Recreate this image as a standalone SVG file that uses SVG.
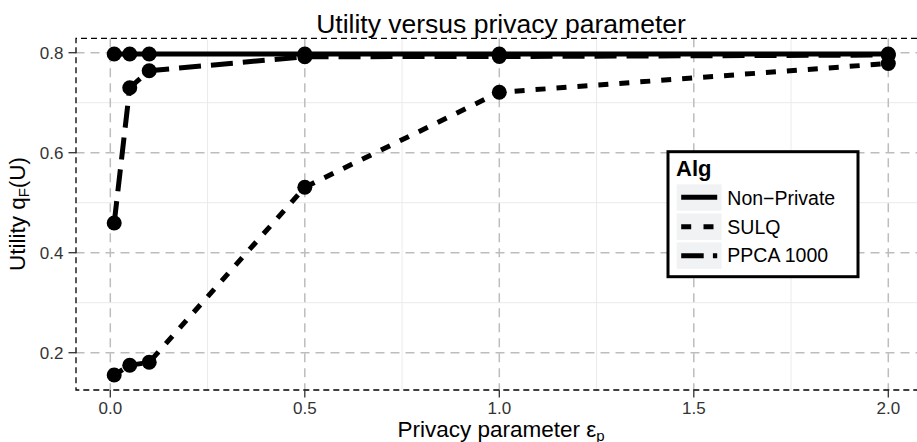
<svg xmlns="http://www.w3.org/2000/svg" width="917" height="442" viewBox="0 0 917 442">
  <style>
    text { font-family: "Liberation Sans", Arial, Helvetica, sans-serif; }
    .minor { stroke: #ebebeb; stroke-width: 1; fill: none; }
    .major { stroke: #bdbdbd; stroke-width: 1.5; stroke-dasharray: 9 6; fill: none; }
    .border { stroke: #000; stroke-width: 1.3; stroke-dasharray: 6 4; fill: none; }
    .tick { stroke: #333; stroke-width: 1.3; }
    .ticklabel { font-size: 17px; fill: #333; }
    .axtitle { font-size: 22.5px; fill: #000; }
    .solid { stroke: #000; stroke-width: 5; fill: none; }
    .sulq { stroke: #000; stroke-width: 5; fill: none; stroke-dasharray: 10 11; }
    .ppca { stroke: #000; stroke-width: 5; fill: none; stroke-dasharray: 22 10; }
    .pt { fill: #000; }
    .key { fill: #f1f2f4; }
    .legtext { font-size: 19.5px; fill: #000; }
  </style>
  <rect x="0" y="0" width="917" height="442" fill="#fff"/>

  <g id="grid">
    <g id="grid-minor">
      <line class="minor" x1="207.55" y1="38.3" x2="207.55" y2="390"/>
      <line class="minor" x1="402.05" y1="38.3" x2="402.05" y2="390"/>
      <line class="minor" x1="596.55" y1="38.3" x2="596.55" y2="390"/>
      <line class="minor" x1="791.05" y1="38.3" x2="791.05" y2="390"/>
      <line class="minor" x1="75.5" y1="102.7" x2="917" y2="102.7"/>
      <line class="minor" x1="75.5" y1="202.7" x2="917" y2="202.7"/>
      <line class="minor" x1="75.5" y1="302.7" x2="917" y2="302.7"/>
    </g>
    <g id="grid-major">
      <line class="major" x1="110.3" y1="38.3" x2="110.3" y2="390"/>
      <line class="major" x1="304.8" y1="38.3" x2="304.8" y2="390"/>
      <line class="major" x1="499.3" y1="38.3" x2="499.3" y2="390"/>
      <line class="major" x1="693.8" y1="38.3" x2="693.8" y2="390"/>
      <line class="major" x1="888.3" y1="38.3" x2="888.3" y2="390"/>
      <line class="major" x1="75.5" y1="52.7" x2="917" y2="52.7"/>
      <line class="major" x1="75.5" y1="152.7" x2="917" y2="152.7"/>
      <line class="major" x1="75.5" y1="252.7" x2="917" y2="252.7"/>
      <line class="major" x1="75.5" y1="352.7" x2="917" y2="352.7"/>
    </g>
  </g>

  <g id="panel-border">
    <path class="border" d="M917,38.3 H76 V390 H917"/>
  </g>

  <g id="axes">
    <g id="y-ticks">
      <line class="tick" x1="68.5" y1="52.7" x2="76" y2="52.7"/>
      <line class="tick" x1="68.5" y1="152.7" x2="76" y2="152.7"/>
      <line class="tick" x1="68.5" y1="252.7" x2="76" y2="252.7"/>
      <line class="tick" x1="68.5" y1="352.7" x2="76" y2="352.7"/>
      <text class="ticklabel" x="63.5" y="59.3" text-anchor="end">0.8</text>
      <text class="ticklabel" x="63.5" y="159.3" text-anchor="end">0.6</text>
      <text class="ticklabel" x="63.5" y="259.3" text-anchor="end">0.4</text>
      <text class="ticklabel" x="63.5" y="359.3" text-anchor="end">0.2</text>
    </g>
    <g id="x-ticks">
      <line class="tick" x1="110.3" y1="390" x2="110.3" y2="397.5"/>
      <line class="tick" x1="304.8" y1="390" x2="304.8" y2="397.5"/>
      <line class="tick" x1="499.3" y1="390" x2="499.3" y2="397.5"/>
      <line class="tick" x1="693.8" y1="390" x2="693.8" y2="397.5"/>
      <line class="tick" x1="888.3" y1="390" x2="888.3" y2="397.5"/>
      <text class="ticklabel" x="110.3" y="413.5" text-anchor="middle">0.0</text>
      <text class="ticklabel" x="304.8" y="413.5" text-anchor="middle">0.5</text>
      <text class="ticklabel" x="499.3" y="413.5" text-anchor="middle">1.0</text>
      <text class="ticklabel" x="693.8" y="413.5" text-anchor="middle">1.5</text>
      <text class="ticklabel" x="888.3" y="413.5" text-anchor="middle">2.0</text>
    </g>
    <text class="axtitle" x="501" y="437" text-anchor="middle">Privacy parameter ε<tspan dy="3.5" font-size="15">p</tspan></text>
    <text class="axtitle" transform="translate(25,214) rotate(-90)" text-anchor="middle">Utility q<tspan dy="4" font-size="15">F</tspan><tspan dy="-4">(U)</tspan></text>
  </g>

  <text id="title" x="501" y="33" font-size="26.5" text-anchor="middle" fill="#000">Utility versus privacy parameter</text>

  <g id="connectors">
    <polyline id="line-non-private" class="solid" points="114.2,54 129.75,54 149.2,54 304.8,54 499.3,54 888.3,54"/>
    <polyline id="line-sulq" class="sulq" points="114.2,375 129.75,365.3 149.2,362.3 304.8,187.3 499.3,92.3 888.3,63.5"/>
    <polyline id="line-ppca" class="ppca" points="114.2,223 129.75,87.7 149.2,70.7 304.8,56.7 499.3,56.5 888.3,55"/>
  </g>

  <g id="points-non-private">
    <circle class="pt" cx="114.2" cy="54" r="7.5"/>
    <circle class="pt" cx="129.75" cy="54" r="7.5"/>
    <circle class="pt" cx="149.2" cy="54" r="7.5"/>
    <circle class="pt" cx="304.8" cy="54" r="7.5"/>
    <circle class="pt" cx="499.3" cy="54" r="7.5"/>
    <circle class="pt" cx="888.3" cy="54" r="7.5"/>
  </g>
  <g id="points-sulq">
    <circle class="pt" cx="114.2" cy="375" r="7.5"/>
    <circle class="pt" cx="129.75" cy="365.3" r="7.5"/>
    <circle class="pt" cx="149.2" cy="362.3" r="7.5"/>
    <circle class="pt" cx="304.8" cy="187.3" r="7.5"/>
    <circle class="pt" cx="499.3" cy="92.3" r="7.5"/>
    <circle class="pt" cx="888.3" cy="63.5" r="7.5"/>
  </g>
  <g id="points-ppca">
    <circle class="pt" cx="114.2" cy="223" r="7.5"/>
    <circle class="pt" cx="129.75" cy="87.7" r="7.5"/>
    <circle class="pt" cx="149.2" cy="70.7" r="7.5"/>
    <circle class="pt" cx="304.8" cy="56.7" r="7.5"/>
    <circle class="pt" cx="499.3" cy="56.5" r="7.5"/>
    <circle class="pt" cx="888.3" cy="55" r="7.5"/>
  </g>

  <g id="legend">
    <rect x="668" y="151.7" width="190" height="125" fill="#fff" stroke="#000" stroke-width="3"/>
    <text x="676" y="176" font-size="22" font-weight="bold" fill="#000">Alg</text>
    <rect class="key" x="676.7" y="184.3" width="45" height="26.4"/>
    <rect class="key" x="676.7" y="213.5" width="45" height="26.4"/>
    <rect class="key" x="676.7" y="242.4" width="45" height="26.4"/>
    <line class="solid" x1="681.2" y1="197.3" x2="717.2" y2="197.3"/>
    <line class="solid" x1="681.2" y1="226.8" x2="717.2" y2="226.8" stroke-dasharray="10 12.3"/>
    <line class="solid" x1="681.2" y1="255.7" x2="717.2" y2="255.7" stroke-dasharray="22.5 9.2"/>
    <text class="legtext" x="727.3" y="205">Non−Private</text>
    <text class="legtext" x="727.3" y="233.5">SULQ</text>
    <text class="legtext" x="727.3" y="262.2">PPCA 1000</text>
  </g>
</svg>
